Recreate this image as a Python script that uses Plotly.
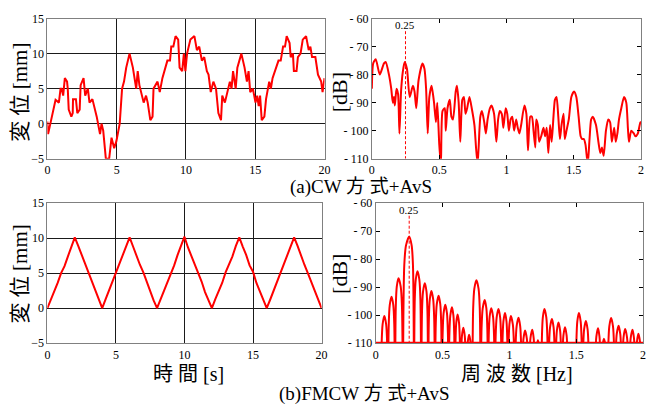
import numpy as np
import plotly.graph_objects as go

# ---------------- data ----------------
cw_time = [0, 0.05, 0.59, 0.83, 0.95, 1.02, 1.14, 1.26, 1.42, 1.47, 1.54, 1.73, 1.83, 1.85, 2.06, 2.16,
           2.33, 2.40, 2.61, 2.73, 2.92, 3.04, 3.25, 3.56, 3.80, 3.91, 4.03, 4.22, 4.46, 4.63, 4.82, 4.98,
           5.22, 5.39, 5.53, 5.69, 5.93, 6.17, 6.41, 6.52, 6.64, 6.95, 7.12, 7.24, 7.43, 7.59, 7.66, 7.95,
           8.11, 8.30, 8.66, 8.85, 8.94, 9.09, 9.25, 9.44, 9.54, 9.73, 9.85, 9.96, 10.08, 10.32, 10.61,
           10.79, 10.96, 11.15, 11.32, 11.51, 11.63, 11.79, 11.98, 12.17, 12.34, 12.53, 12.62, 12.81,
           12.93, 13.17, 13.29, 13.40, 13.59, 13.71, 14.00, 14.23, 14.40, 14.52, 14.64, 14.83, 15.02,
           15.14, 15.25, 15.35, 15.47, 15.66, 15.78, 16.01, 16.13, 16.25, 16.68, 16.84, 17.01, 17.15,
           17.27, 17.48, 17.56, 17.72, 17.79, 17.98, 18.08, 18.27, 18.43, 18.67, 18.86, 18.98, 19.10,
           19.34, 19.53, 19.76, 19.86, 20.0]
cw_disp = [0.3, -1.5, 3.4, 3.0, 5.0, 5.0, 4.0, 6.5, 6.0, 5.0, 2.0, 1.0, 1.5, 3.5, 3.5, 1.5,
           2.0, 5.5, 6.5, 4.0, 5.0, 3.0, 3.5, 1.0, -1.5, 0.0, -1.0, -5.0, -5.0, -2.0, -3.5, -2.5,
           0.0, 5.0, 6.0, 8.0, 10.0, 8.0, 5.0, 7.5, 5.5, 3.0, 4.0, 3.0, 0.5, 1.0, 5.0, 6.0,
           4.5, 6.5, 9.0, 9.0, 11.0, 11.0, 12.5, 12.0, 8.0, 7.5, 10.0, 7.5, 10.0, 12.0, 12.5,
           10.5, 11.0, 9.0, 9.5, 7.5, 7.0, 4.5, 6.0, 5.0, 1.5, 0.5, 4.0, 3.0,
           4.0, 6.0, 5.0, 7.5, 5.0, 8.0, 10.0, 8.0, 6.0, 7.5, 4.5, 5.0, 3.0,
           4.0, 2.5, 4.0, 0.5, 1.0, 3.5, 6.0, 5.0, 6.5, 9.0, 9.0, 11.0, 11.0,
           12.5, 11.5, 9.5, 10.0, 7.5, 7.5, 9.5, 10.0, 12.0, 12.5, 10.5, 11.0, 9.5,
           9.5, 7.0, 6.0, 4.5, 6.5]

cw_freq = [0, 0.010, 0.029, 0.059, 0.090, 0.103, 0.127, 0.144, 0.156, 0.164, 0.171, 0.183, 0.195, 0.205,
           0.217, 0.230, 0.244, 0.261, 0.281, 0.305, 0.317, 0.330, 0.347, 0.376, 0.391, 0.403, 0.415,
           0.427, 0.444, 0.462, 0.476, 0.486, 0.501, 0.513, 0.525, 0.542, 0.549, 0.562, 0.579, 0.591,
           0.603, 0.623, 0.632, 0.645, 0.657, 0.672, 0.684, 0.696, 0.708, 0.725, 0.742, 0.762, 0.774,
           0.786, 0.799, 0.806, 0.818, 0.835, 0.847, 0.860, 0.877, 0.889, 0.908, 0.925, 0.938, 0.950,
           0.965, 0.977, 0.994, 1.006, 1.018, 1.031, 1.043, 1.057, 1.072, 1.084, 1.096, 1.109, 1.133,
           1.148, 1.160, 1.177, 1.189, 1.201, 1.214, 1.221, 1.233, 1.243, 1.258, 1.275, 1.287, 1.299,
           1.311, 1.324, 1.336, 1.360, 1.372, 1.385, 1.397, 1.409, 1.424, 1.433, 1.446, 1.463, 1.482,
           1.502, 1.519, 1.536, 1.551, 1.563, 1.575, 1.587, 1.604, 1.617, 1.629, 1.641, 1.665, 1.683,
           1.697, 1.709, 1.722, 1.739, 1.756, 1.770, 1.783, 1.800, 1.812, 1.824, 1.836, 1.853, 1.873,
           1.890, 1.902, 1.910, 1.927, 1.946, 1.958, 1.976, 1.995, 2.0]
cw_db = [-85, -76, -74.5, -80, -76, -75.5, -80, -85, -90, -88, -91, -85, -87, -101,
         -86, -79, -75.5, -78, -88, -84, -86, -92, -82, -76, -78, -85, -101,
         -88, -84, -90, -97, -90, -105, -112, -93, -92, -100, -92, -89, -95,
         -96, -86, -84, -90, -104, -89, -88, -94, -92, -88, -92, -98, -106,
         -112, -100, -95, -93, -97, -101, -96, -92, -91, -94, -104, -96, -93,
         -94, -99, -92, -94, -100, -96, -95, -100, -96, -99, -101, -98, -91,
         -94, -107, -95, -95, -100, -106, -96, -98, -104, -102, -99, -102, -99,
         -108, -98, -104, -89, -88, -95, -103, -98, -94, -103, -100, -96, -88,
         -86, -88, -95, -102, -103, -103, -105, -112, -103, -96, -95, -98, -104,
         -108, -106, -109, -100, -96, -97, -104, -99, -104, -101, -96, -92, -88,
         -90, -99, -104, -100, -101, -102, -101, -97, -97]

fm_time = np.linspace(0, 20, 81)
fm_disp = [0.0, 1.2, 2.2, 3.6, 5.0, 6.0, 7.4, 8.8, 10.1, 8.9, 7.6, 6.3, 5.0, 3.8, 2.4, 1.2, 0.0,
           1.3, 2.6, 3.8, 5.2, 6.2, 7.5, 8.9, 10.1, 8.8, 7.4, 6.2, 5.1, 3.7, 2.5, 1.1, 0.0,
           1.2, 2.4, 3.7, 5.0, 6.1, 7.6, 8.8, 10.2, 8.7, 7.5, 6.3, 5.0, 3.8, 2.3, 1.2, 0.0,
           1.3, 2.5, 3.6, 5.1, 6.2, 7.4, 8.9, 10.1, 8.8, 7.6, 6.1, 5.2, 3.6, 2.4, 1.2, 0.0,
           1.2, 2.5, 3.8, 5.0, 6.3, 7.5, 8.8, 10.1, 8.9, 7.4, 6.2, 5.0, 3.7, 2.5, 1.1, 0.0]

# FMCW spectrum: side-lobe peaks and the nulls that bound them
fm_peak_f = [0.064, 0.118, 0.170, 0.250, 0.312, 0.367, 0.416, 0.470, 0.520, 0.570, 0.612, 0.655,
             0.698, 0.753, 0.815, 0.864, 0.918, 0.967, 1.011, 1.068, 1.117, 1.171, 1.213, 1.262,
             1.318, 1.367, 1.416, 1.520, 1.572, 1.663, 1.707, 1.761, 1.817, 1.866, 1.921, 1.965]
fm_peak_db = [-100.3, -93.4, -86.8, -72.0, -84.3, -88.6, -91.4, -93.1, -96.3, -97.2, -99.8, -104.5,
              -107.0, -87.5, -94.6, -97.5, -97.8, -99.2, -100.3, -100.9, -105.5, -105.2, -109.0, -97.8,
              -101.4, -102.6, -104.3, -99.2, -102.1, -104.7, -108.4, -101.0, -103.8, -104.9, -105.2, -106.6]
fm_null_f = [0.038, 0.091, 0.144, 0.203, 0.286, 0.340, 0.392, 0.443, 0.495, 0.545, 0.592, 0.634,
             0.677, 0.722, 0.785, 0.840, 0.891, 0.943, 0.989, 1.040, 1.093, 1.144, 1.192, 1.238,
             1.290, 1.343, 1.392, 1.44, 1.496, 1.546, 1.598, 1.638, 1.685, 1.734, 1.789, 1.842,
             1.894, 1.943, 1.99]
fm_lobe_left = [0, 1, 2, 3, 4, 5, 6, 7, 8, 9, 10, 11, 12, 13, 14, 15, 16, 17, 18, 19, 20, 21, 22, 23,
                24, 25, 26, 28, 29, 31, 32, 33, 34, 35, 36, 37]  # index of null left of each peak
FLOOR_DB = -110
NULL_DB = -135
PEAK_MARK_F = 0.25

# drawing profile of one lobe (fraction of half-width from the null, dB below the peak) - style only
LOBE_SHAPE = [(0.22, 10.0), (0.5, 3.0)]

fm_f, fm_db = [0.0], [NULL_DB]
for i, (pf, pd) in enumerate(zip(fm_peak_f, fm_peak_db)):
    nl = fm_null_f[fm_lobe_left[i]]
    nr = fm_null_f[fm_lobe_left[i] + 1]
    fm_f.append(nl); fm_db.append(NULL_DB)
    for frac, drop in LOBE_SHAPE:
        fm_f.append(nl + frac * (pf - nl)); fm_db.append(pd - drop)
    fm_f.append(pf); fm_db.append(pd)
    for frac, drop in reversed(LOBE_SHAPE):
        fm_f.append(nr - frac * (nr - pf)); fm_db.append(pd - drop)
    fm_f.append(nr); fm_db.append(NULL_DB)

# ---------------- figure ----------------
RED = "#ff0000"
SERIF = "Liberation Serif, Times New Roman, serif"
CJK = "Liberation Serif, Noto Sans CJK JP, serif"

fig = go.Figure()
fig.add_trace(go.Scatter(x=cw_time, y=cw_disp, mode="lines", line=dict(color=RED, width=2),
                         xaxis="x", yaxis="y"))
fig.add_trace(go.Scatter(x=cw_freq, y=cw_db, mode="lines", line=dict(color=RED, width=2, shape="spline", smoothing=0.6),
                         xaxis="x2", yaxis="y2"))
fig.add_trace(go.Scatter(x=[PEAK_MARK_F, PEAK_MARK_F], y=[-64.5, FLOOR_DB], mode="lines",
                         line=dict(color=RED, width=1, dash="3px,2px"), xaxis="x2", yaxis="y2"))
fig.add_trace(go.Scatter(x=fm_time, y=fm_disp, mode="lines", line=dict(color=RED, width=2),
                         xaxis="x3", yaxis="y3"))
fig.add_trace(go.Scatter(x=fm_f, y=fm_db, mode="lines", line=dict(color=RED, width=2, shape="spline", smoothing=0.8),
                         xaxis="x4", yaxis="y4"))
fig.add_trace(go.Scatter(x=[0, 2], y=[FLOOR_DB, FLOOR_DB], mode="lines", line=dict(color=RED, width=3),
                         xaxis="x4", yaxis="y4", cliponaxis=False))
fig.add_trace(go.Scatter(x=[PEAK_MARK_F, PEAK_MARK_F], y=[-64.5, FLOOR_DB], mode="lines",
                         line=dict(color=RED, width=1, dash="3px,2px"), xaxis="x4", yaxis="y4"))

W, H = 653, 412
def dx(a, b):
    return [a / W, b / W]
def dy(top, bot):
    return [(H - bot) / H, (H - top) / H]

tickfont = dict(family=SERIF, size=12, color="black")
left_x = dict(range=[0, 20], tickvals=[0, 5, 10, 15, 20], ticktext=["0", "5", "10", "15", "20"],
              showgrid=True, gridcolor="#1a1a1a", gridwidth=1, zeroline=False, showline=True,
              mirror=True, linecolor="#808080", linewidth=1, ticks="", tickfont=tickfont)
left_y = dict(range=[-5, 15], tickvals=[-5, 0, 5, 10, 15], ticktext=["\u22125", "0", "5", "10", "15"],
              showgrid=True, gridcolor="#1a1a1a", gridwidth=1, zeroline=False, showline=True,
              mirror=True, linecolor="#808080", linewidth=1, ticks="", tickfont=tickfont)
right_x = dict(range=[0, 2], tickvals=[0, 0.5, 1, 1.5, 2], ticktext=["0", "0.5", "1", "1.5", "2"],
               showgrid=False, zeroline=False, showline=True, mirror="ticks", linecolor="#808080",
               linewidth=1, ticks="inside", ticklen=4, tickcolor="black", tickfont=tickfont)
right_y = dict(range=[-110, -60], tickvals=[-110, -100, -90, -80, -70, -60],
               ticktext=["- 110", "- 100", "- 90", "- 80", "- 70", "- 60"],
               showgrid=False, zeroline=False, showline=True, mirror="ticks", linecolor="#808080",
               linewidth=1, ticks="inside", ticklen=4, tickcolor="black", tickfont=tickfont)

fig.update_layout(
    width=W, height=H, margin=dict(l=0, r=0, t=0, b=0),
    paper_bgcolor="white", plot_bgcolor="white", showlegend=False,
    xaxis=dict(left_x, domain=dx(45, 326), anchor="y"),
    yaxis=dict(left_y, domain=dy(12, 157), anchor="x"),
    xaxis2=dict(right_x, domain=dx(374, 647), anchor="y2"),
    yaxis2=dict(right_y, domain=dy(12, 157), anchor="x2"),
    xaxis3=dict(left_x, domain=dx(45, 323), anchor="y3"),
    yaxis3=dict(left_y, domain=dy(203, 348), anchor="x3"),
    xaxis4=dict(right_x, domain=dx(378, 649), anchor="y4"),
    yaxis4=dict(right_y, domain=dy(203, 348), anchor="x4"),
)

def ann(text, x, y, size, angle=0, font=CJK):
    fig.add_annotation(text=text, x=x / W, y=(H - y) / H, xref="paper", yref="paper",
                       showarrow=False, textangle=angle, xanchor="center", yanchor="middle",
                       font=dict(family=font, size=size, color="black"))

ann("変 位 [mm]", 17, 88, 21, angle=-90)
ann("変 位 [mm]", 17, 276, 21, angle=-90)
ann("[dB]", 341, 88, 22, angle=-90)
ann("[dB]", 341, 276, 22, angle=-90)
ann("時 間 [s]", 188, 380, 20)
ann("周 波 数 [Hz]", 521, 380, 20)
ann("(a)CW 方 式+AvS", 363, 186, 19)
ann("(b)FMCW 方 式+AvS", 366, 401, 19)

for xa, ya in [("x2", "y2"), ("x4", "y4")]:
    fig.add_annotation(text="0.25", x=PEAK_MARK_F, y=-62.4, xref=xa, yref=ya, showarrow=False,
                       font=dict(family=SERIF, size=11, color="black"), xanchor="center", yanchor="middle")

fig.write_html("out.html")
